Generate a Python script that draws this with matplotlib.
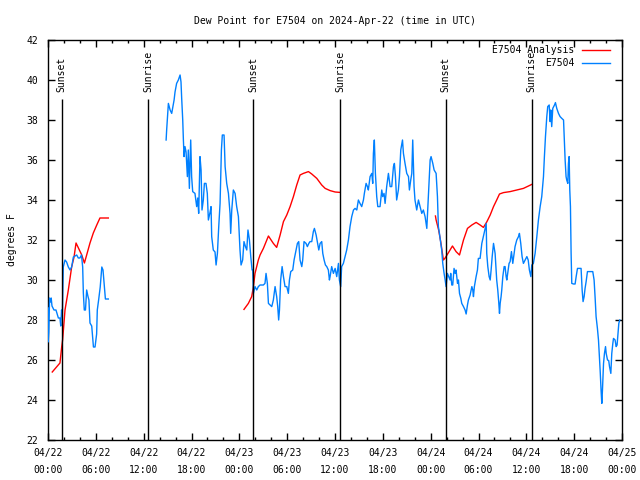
"""
Dew point for station E7504, observations vs. analysis, 2024-04-22 .. 04-25 (UTC).
"""

import numpy as np
import matplotlib
matplotlib.use("Agg")
import matplotlib.pyplot as plt
import matplotlib.dates as mdates

START = np.datetime64("2024-04-22T00:00")

# hours after START ; nan marks a gap in the record
OBS_HOURS = [
    0.00, 0.02, 0.10, 0.20, 0.30, 0.40, 0.50, 0.75, 1.00, 1.30, 1.50, 1.60, 1.70, 1.80,
    1.92, 2.13, 2.34, 2.55, 2.76, 2.97, 3.18, 3.60, 3.80, 4.00, 4.20, 4.35, 4.43, 4.55,
    4.70, 4.85, 5.00, 5.14, 5.27, 5.48, 5.70, 5.90, 6.10, 6.19, 6.35, 6.55, 6.75, 6.90,
    7.06, 7.20, 7.57, 11.0,
    14.81, 14.89, 15.02, 15.10, 15.31, 15.52, 15.64, 15.81, 15.93, 16.14, 16.35, 16.56,
    16.69, 16.77, 16.90, 16.98, 17.06, 17.19, 17.31, 17.48, 17.60, 17.73, 17.90, 18.02,
    18.15, 18.44, 18.65, 18.78, 18.90, 19.07, 19.20, 19.32, 19.49, 19.61, 19.82, 19.99,
    20.11, 20.33, 20.45, 20.54, 20.74, 20.95, 21.08, 21.25, 21.41, 21.58, 21.75, 21.87,
    22.08, 22.21, 22.42, 22.63, 22.84, 22.92, 23.05, 23.25, 23.46, 23.67, 23.88, 24.09,
    24.22, 24.42, 24.59, 24.76, 24.93, 25.09, 25.26, 25.43, 25.60,
    25.68, 25.76, 25.97, 26.18, 26.39, 26.60, 27.02, 27.22, 27.35, 27.52, 27.65, 27.86,
    28.06, 28.27, 28.48, 28.69, 28.82, 28.94, 29.03, 29.19, 29.36, 29.53, 29.74, 29.95,
    30.15, 30.28, 30.45, 30.70, 30.86, 31.11, 31.28, 31.45, 31.62, 31.83, 31.95, 32.12,
    32.37, 32.54, 32.71, 32.87, 33.08, 33.29, 33.42, 33.63, 33.79, 33.96, 34.13, 34.34,
    34.46, 34.63, 34.80, 34.97, 35.17, 35.30,
    35.38, 35.59, 35.80, 36.01, 36.22, 36.43, 36.55, 36.72, 36.84, 37.05, 37.26, 37.47,
    37.68, 37.89, 38.10, 38.31, 38.52, 38.73, 38.93, 39.14, 39.35, 39.56, 39.69, 39.90,
    40.06, 40.19, 40.40, 40.61, 40.73, 40.82, 40.94, 41.07, 41.23, 41.36, 41.65, 41.86,
    41.99, 42.15, 42.28, 42.49, 42.70, 42.91, 43.12, 43.33, 43.45, 43.58, 43.74, 43.95,
    44.08, 44.25, 44.46, 44.58, 44.79, 45.00, 45.21, 45.33, 45.50, 45.63, 45.75, 45.92,
    46.04, 46.25, 46.46, 46.67, 46.88, 47.09, 47.30, 47.51, 47.72, 47.93, 48.05, 48.26,
    48.43, 48.68, 48.85, 48.97, 49.10, 49.26, 49.39, 49.51, 49.68, 49.81, 49.93, 50.10,
    50.27, 50.43,
    50.52, 50.65, 50.77, 50.94, 51.07, 51.19, 51.36, 51.48, 51.61, 51.78, 51.90, 52.11,
    52.32, 52.45, 52.61, 52.74, 52.95, 53.16, 53.28, 53.37, 53.49, 53.70, 53.87, 53.99,
    54.20, 54.41, 54.62, 54.75, 54.83, 54.96, 55.04, 55.16, 55.33, 55.46, 55.58, 55.71,
    55.88, 56.09, 56.29, 56.42, 56.54, 56.63, 56.71, 56.84, 56.92, 57.05, 57.21, 57.34,
    57.46, 57.55, 57.67, 57.84, 57.97, 58.13, 58.30, 58.47, 58.59, 58.80, 59.01, 59.14,
    59.30, 59.47, 59.64, 59.85, 60.06, 60.23, 60.39, 60.56,
    60.68, 60.89, 61.10, 61.31, 61.52, 61.73, 61.94, 62.15, 62.27, 62.40, 62.57, 62.69,
    62.86, 62.98, 63.07, 63.19, 63.32, 63.53, 63.65, 63.82, 64.03, 64.24, 64.45, 64.66,
    64.74, 64.87, 64.99, 65.07, 65.20, 65.28, 65.37, 65.45, 65.53, 65.62, 65.70, 65.91,
    66.12, 66.25, 66.41, 66.66, 66.87, 67.00, 67.12, 67.25, 67.37, 67.50, 67.67, 68.00,
    68.34, 68.50, 68.63, 68.75, 68.92, 69.05, 69.17, 69.26, 69.38, 69.47, 69.55, 69.68,
    69.80, 69.93, 70.01, 70.18, 70.34, 70.43, 70.60, 70.72, 70.85, 70.93, 71.14, 71.26,
    71.39, 71.47, 71.60, 71.72,
]
OBS_DEWPT = [
    28.6, 26.9, 27.4, 29.1, 28.9, 29.1, 28.7, 28.5, 28.5, 28.1, 28.1, 27.7, 28.5, 28.2,
    30.65, 31.0, 30.9, 30.65, 30.5, 30.65, 31.15, 31.25, 31.1, 31.1, 31.25, 30.65, 29.35, 28.5,
    28.5, 29.5, 29.2, 29.0, 27.85, 27.7, 26.65, 26.65, 27.3, 28.5, 29.0, 29.65, 30.65, 30.5,
    29.7, 29.05, 29.05, np.nan,
    37.0, 37.5, 38.33, 38.83, 38.5, 38.33, 38.6, 39.0, 39.4, 39.83, 40.0, 40.25,
    39.9, 39.1, 38.0, 37.0, 36.17, 36.67, 36.4, 35.17, 36.5, 34.58, 37.0, 35.17,
    34.42, 34.33, 33.67, 34.1, 33.33, 36.17, 35.5, 33.5, 34.0, 34.83, 34.83, 34.33,
    33.0, 33.4, 33.67, 32.17, 31.5, 31.4, 30.75, 31.33, 32.67, 33.83, 36.5, 37.25,
    37.25, 35.67, 34.83, 34.33, 33.33, 32.33, 33.5, 34.5, 34.33, 33.67, 33.17, 31.5,
    30.75, 31.0, 31.92, 31.67, 31.5, 32.5, 32.0, 31.17, 30.5,
    30.5, 29.33, 29.67, 29.5, 29.67, 29.75, 29.75, 29.83, 30.33, 29.83, 28.83, 28.75,
    28.67, 29.0, 29.67, 29.17, 28.67, 28.0, 28.5, 30.0, 30.67, 30.17, 29.67, 29.67,
    29.33, 30.0, 30.42, 30.5, 31.0, 31.5, 31.83, 31.92, 31.0, 30.67, 31.0, 31.92,
    31.83, 31.67, 31.83, 31.92, 31.92, 32.42, 32.58, 32.25, 31.92, 31.5, 31.83, 31.92,
    31.33, 31.0, 30.75, 30.67, 30.5, 30.0,
    30.17, 30.67, 30.33, 30.58, 30.17, 30.83, 30.0, 29.67, 30.67, 30.83, 31.17, 31.5,
    32.0, 32.67, 33.17, 33.5, 33.58, 33.5, 34.0, 33.83, 33.67, 34.0, 34.33, 34.83,
    34.67, 34.5, 35.17, 35.33, 34.83, 36.33, 37.0, 35.33, 34.17, 33.67, 33.67, 34.5,
    34.17, 34.33, 33.83, 34.67, 35.33, 34.67, 34.67, 35.67, 35.83, 35.17, 34.0, 34.5,
    35.17, 36.5, 37.0, 36.33, 35.83, 35.33, 35.17, 34.5, 35.0, 35.33, 37.0, 34.67,
    34.0, 33.5, 34.0, 33.67, 33.33, 33.5, 33.17, 32.58, 34.17, 36.0, 36.17, 35.83,
    35.5, 35.33, 34.17, 32.67, 32.33, 31.83, 31.5, 30.83, 30.33, 30.0, 29.67, 30.33,
    30.17, 30.0,
    30.33, 29.75, 29.75, 30.58, 30.33, 30.5, 29.83, 30.0, 29.33, 29.08, 28.83, 28.67,
    28.5, 28.3, 28.75, 29.0, 29.25, 29.67, 29.5, 29.17, 29.67, 30.17, 30.5, 31.08,
    31.08, 31.83, 32.17, 32.42, 32.58, 32.83, 31.33, 30.67, 30.17, 30.0, 30.5, 31.17,
    31.83, 31.33, 30.0, 29.5, 28.92, 28.33, 28.83, 29.17, 29.5, 30.17, 30.67, 30.67,
    30.17, 30.0, 30.33, 30.83, 30.92, 31.42, 30.83, 31.33, 31.67, 32.0, 32.17, 32.33,
    31.83, 31.17, 30.83, 31.0, 31.17, 31.0, 30.5, 30.17,
    30.75, 30.83, 31.33, 32.17, 33.0, 33.67, 34.17, 35.17, 36.17, 37.17, 38.17, 38.67,
    38.75, 37.92, 38.5, 37.67, 38.58, 38.75, 38.87, 38.58, 38.33, 38.17, 38.08, 38.0,
    37.33, 36.0, 35.17, 35.0, 34.83, 35.83, 36.17, 34.5, 33.67, 31.33, 29.83, 29.8,
    29.8, 30.17, 30.58, 30.58, 30.58, 29.5, 28.92, 29.17, 29.58, 29.92, 30.42, 30.42,
    30.42, 30.0, 29.08, 28.17, 27.58, 27.0, 26.17, 25.42, 24.42, 23.83, 24.5, 25.83,
    26.33, 26.67, 26.33, 26.0, 25.97, 25.67, 25.33, 26.33, 26.83, 27.08, 27.0, 26.67,
    26.75, 27.17, 27.83, 28.0,
]

ANL_HOURS = [
    0.54, 1.50, 1.71, 1.84, 2.13, 2.55, 2.97, 3.26, 3.51, 3.81, 4.23, 4.56, 4.85, 5.27,
    5.69, 6.11, 6.52, 7.57, 16.0,
    24.59, 25.13, 25.55, 25.76, 25.97, 26.39, 26.60, 27.02, 27.65, 28.27, 28.69, 29.11,
    29.53, 29.95, 30.36, 30.78, 31.20, 31.62, 32.04, 32.66, 33.08, 33.71, 34.34, 34.76,
    35.38, 36.01, 36.64, 42.0,
    48.60, 48.68, 49.00, 49.27, 49.60, 49.81, 50.23, 50.73, 51.19, 51.61, 52.11, 52.61,
    53.16, 53.70, 54.20, 54.62, 55.04, 55.46, 55.88, 56.29, 56.63, 57.13, 57.97, 58.80,
    59.64, 60.27, 60.69,
]
ANL_DEWPT = [
    25.4, 25.85, 26.65, 27.0, 28.5, 29.5, 30.65, 31.15, 31.85, 31.6, 31.25, 30.85, 31.25, 31.85,
    32.35, 32.75, 33.1, 33.1, np.nan,
    28.53, 28.83, 29.17, 29.67, 30.33, 31.0, 31.25, 31.58, 32.2, 31.83, 31.63, 32.25,
    32.92, 33.25, 33.67, 34.17, 34.75, 35.25, 35.33, 35.42, 35.3, 35.08, 34.75, 34.58,
    34.47, 34.4, 34.38, np.nan,
    33.2, 33.0, 32.5, 31.9, 31.0, 31.1, 31.37, 31.7, 31.42, 31.25, 32.0, 32.58,
    32.75, 32.88, 32.75, 32.63, 32.9, 33.25, 33.67, 34.0, 34.3, 34.37, 34.42, 34.5,
    34.58, 34.7, 34.78,
]

SUN_EVENTS = [
    ("2024-04-22T01:44", "Sunset"),
    ("2024-04-22T12:35", "Sunrise"),
    ("2024-04-23T01:45", "Sunset"),
    ("2024-04-23T12:38", "Sunrise"),
    ("2024-04-24T01:52", "Sunset"),
    ("2024-04-24T12:41", "Sunrise"),
]

FONT = "DejaVu Sans Mono"
FS = 7


def to_time(hours):
    minutes = np.round(np.asarray(hours, dtype=float) * 60.0)
    minutes = np.nan_to_num(minutes, nan=0.0).astype(int)
    return START + minutes.astype("timedelta64[m]")


def gnuplot_key(ax, lines):
    # gnuplot-style key: right-justified text, sample line to its right
    for row, line in enumerate(lines):
        y = 0.975 - row * 0.0325
        ax.text(0.9165, y, line.get_label(), transform=ax.transAxes,
                ha="right", va="center", fontsize=FS)
        ax.plot([0.930, 0.979], [y, y], transform=ax.transAxes,
                color=line.get_color(), lw=line.get_linewidth())


def main():
    plt.rcParams.update({
        "font.family": FONT,
        "font.size": FS,
        "axes.linewidth": 1.0,
    })

    fig = plt.figure(figsize=(6.4, 4.8), dpi=100)
    ax = fig.add_axes([48 / 640, 40 / 480, 574 / 640, 400 / 480])

    t_anl = to_time(ANL_HOURS)
    t_obs = to_time(OBS_HOURS)

    anl, = ax.plot(t_anl, ANL_DEWPT, color="#ff0000", lw=1.0,
                   label="E7504 Analysis", zorder=2)
    obs, = ax.plot(t_obs, OBS_DEWPT, color="#0080ff", lw=1.0,
                   label="E7504", zorder=3)

    for when, name in SUN_EVENTS:
        t = np.datetime64(when)
        ax.vlines(t, 22, 39.05, color="black", lw=1.0, zorder=4)
        ax.text(t, 39.4, name, rotation=90, ha="center", va="bottom",
                fontsize=FS, zorder=4)

    ax.set_xlim(START, START + np.timedelta64(72, "h"))
    ax.set_ylim(22, 42)
    ax.set_yticks(np.arange(22, 43, 2))

    ax.xaxis.set_major_locator(mdates.HourLocator(byhour=[0, 6, 12, 18]))
    ax.xaxis.set_minor_locator(mdates.HourLocator(interval=2))
    ax.xaxis.set_major_formatter(mdates.DateFormatter("%m/%d\n%H:%M"))

    ax.tick_params(which="both", direction="in", top=True, right=True,
                   labelsize=FS, width=1.0, color="black")
    ax.tick_params(which="major", length=5)
    ax.tick_params(which="minor", length=2.5)
    ax.tick_params(axis="x", pad=6)
    ax.tick_params(axis="y", pad=7)

    ax.set_title("Dew Point for E7504 on 2024-Apr-22 (time in UTC)",
                 fontsize=FS, pad=11.5)
    ax.set_ylabel("degrees F", fontsize=FS)
    ax.yaxis.set_label_coords(-0.054, 0.5)

    gnuplot_key(ax, [anl, obs])

    fig.canvas.draw()
    for lbl in ax.get_xticklabels():
        lbl.set_linespacing(1.8)

    fig.savefig("out.png", dpi=100)
    plt.close(fig)


if __name__ == "__main__":
    main()
